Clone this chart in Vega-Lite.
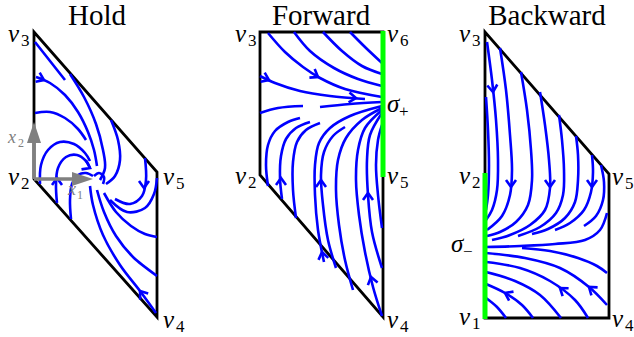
{
  "$schema": "https://vega.github.io/schema/vega-lite/v6.json",
  "width": 634,
  "height": 337,
  "padding": 0,
  "autosize": {"type": "none"},
  "background": "white",
  "view": {"stroke": null},
  "config": {"font": "Liberation Serif"},
  "encoding": {
    "x": {"field":"x","type":"quantitative","scale":{"domain":[0,634],"nice":false,"zero":false},"axis":null},
    "y": {"field":"y","type":"quantitative","scale":{"domain":[0,337],"nice":false,"zero":false,"reverse":true},"axis":null}
  },
  "layer": [
    {
      "data": {"values": [
        {"id":"h","i":0,"x":34,"y":120},{"id":"h","i":1,"x":34,"y":32},{"id":"h","i":2,"x":157,"y":172},{"id":"h","i":3,"x":157,"y":317},{"id":"h","i":4,"x":34,"y":179},{"id":"h","i":5,"x":34,"y":120},
        {"id":"f","i":0,"x":383,"y":32},{"id":"f","i":1,"x":260,"y":32},{"id":"f","i":2,"x":260,"y":175},{"id":"f","i":3,"x":383,"y":317},{"id":"f","i":4,"x":383,"y":177},
        {"id":"b","i":0,"x":485,"y":173},{"id":"b","i":1,"x":485,"y":32},{"id":"b","i":2,"x":609,"y":174},{"id":"b","i":3,"x":609,"y":318},{"id":"b","i":4,"x":485,"y":318}
      ]},
      "mark": {"type":"line","color":"#000000","strokeWidth":2.8,"strokeJoin":"miter","strokeCap":"square"},
      "encoding": {"detail":{"field":"id"},"order":{"field":"i","type":"quantitative"}}
    },
    {
      "data": {"values": [
      {"id":"hA","i":0,"x":35,"y":42},{"id":"hA","i":1,"x":50,"y":61},{"id":"hA","i":2,"x":65,"y":80},
      {"id":"hB","i":0,"x":36,"y":77},{"id":"hB","i":1,"x":50,"y":83},{"id":"hB","i":2,"x":65,"y":95},{"id":"hB","i":3,"x":78,"y":112},{"id":"hB","i":4,"x":88,"y":132},{"id":"hB","i":5,"x":94,"y":150},{"id":"hB","i":6,"x":97,"y":166},
      {"id":"hC","i":0,"x":35,"y":113},{"id":"hC","i":1,"x":50,"y":112},{"id":"hC","i":2,"x":65,"y":118},{"id":"hC","i":3,"x":78,"y":129},{"id":"hC","i":4,"x":86,"y":140},
      {"id":"hD","i":0,"x":70,"y":74},{"id":"hD","i":1,"x":84,"y":97},{"id":"hD","i":2,"x":96,"y":124},{"id":"hD","i":3,"x":103,"y":150},{"id":"hD","i":4,"x":105,"y":168},{"id":"hD","i":5,"x":100,"y":180},
      {"id":"hE","i":0,"x":111,"y":120},{"id":"hE","i":1,"x":118,"y":140},{"id":"hE","i":2,"x":120,"y":160},{"id":"hE","i":3,"x":115,"y":176},{"id":"hE","i":4,"x":106,"y":184},
      {"id":"hL1","i":0,"x":40,"y":184},{"id":"hL1","i":1,"x":41,"y":165},{"id":"hL1","i":2,"x":48,"y":150},{"id":"hL1","i":3,"x":60,"y":142},{"id":"hL1","i":4,"x":74,"y":144},{"id":"hL1","i":5,"x":85,"y":153},{"id":"hL1","i":6,"x":90,"y":161},
      {"id":"hL2","i":0,"x":57,"y":203},{"id":"hL2","i":1,"x":56,"y":185},{"id":"hL2","i":2,"x":58,"y":168},{"id":"hL2","i":3,"x":66,"y":157},{"id":"hL2","i":4,"x":77,"y":155},{"id":"hL2","i":5,"x":86,"y":161},{"id":"hL2","i":6,"x":90,"y":168},
      {"id":"hL3","i":0,"x":71,"y":219},{"id":"hL3","i":1,"x":70,"y":200},{"id":"hL3","i":2,"x":72,"y":184},{"id":"hL3","i":3,"x":78,"y":175},{"id":"hL3","i":4,"x":86,"y":173},{"id":"hL3","i":5,"x":93,"y":176},
      {"id":"hS","i":0,"x":94,"y":176},{"id":"hS","i":1,"x":99,"y":173},{"id":"hS","i":2,"x":104,"y":177},{"id":"hS","i":3,"x":103,"y":184},
      {"id":"hF1","i":0,"x":90,"y":186},{"id":"hF1","i":1,"x":93,"y":205},{"id":"hF1","i":2,"x":103,"y":235},{"id":"hF1","i":3,"x":120,"y":265},{"id":"hF1","i":4,"x":140,"y":291},{"id":"hF1","i":5,"x":156,"y":313},
      {"id":"hF2","i":0,"x":97,"y":190},{"id":"hF2","i":1,"x":104,"y":212},{"id":"hF2","i":2,"x":116,"y":236},{"id":"hF2","i":3,"x":134,"y":258},{"id":"hF2","i":4,"x":157,"y":276},
      {"id":"hF3","i":0,"x":104,"y":193},{"id":"hF3","i":1,"x":116,"y":212},{"id":"hF3","i":2,"x":131,"y":226},{"id":"hF3","i":3,"x":145,"y":234},{"id":"hF3","i":4,"x":157,"y":237},
      {"id":"hF4","i":0,"x":110,"y":200},{"id":"hF4","i":1,"x":127,"y":212},{"id":"hF4","i":2,"x":145,"y":208},{"id":"hF4","i":3,"x":154,"y":194},{"id":"hF4","i":4,"x":157,"y":178},
      {"id":"hG","i":0,"x":145,"y":158},{"id":"hG","i":1,"x":146,"y":180},{"id":"hG","i":2,"x":142,"y":196},{"id":"hG","i":3,"x":130,"y":204},{"id":"hG","i":4,"x":115,"y":199},
      {"id":"fT1","i":0,"x":350,"y":32},{"id":"fT1","i":1,"x":366,"y":48},{"id":"fT1","i":2,"x":382,"y":63},
      {"id":"fT2","i":0,"x":323,"y":32},{"id":"fT2","i":1,"x":342,"y":51},{"id":"fT2","i":2,"x":362,"y":66},{"id":"fT2","i":3,"x":382,"y":74},
      {"id":"fT3","i":0,"x":294,"y":32},{"id":"fT3","i":1,"x":310,"y":51},{"id":"fT3","i":2,"x":334,"y":68},{"id":"fT3","i":3,"x":358,"y":79},{"id":"fT3","i":4,"x":382,"y":86},
      {"id":"fT4","i":0,"x":268,"y":33},{"id":"fT4","i":1,"x":285,"y":52},{"id":"fT4","i":2,"x":303,"y":67},{"id":"fT4","i":3,"x":320,"y":78},{"id":"fT4","i":4,"x":345,"y":89},{"id":"fT4","i":5,"x":382,"y":97},
      {"id":"fT5","i":0,"x":260,"y":76},{"id":"fT5","i":1,"x":275,"y":83},{"id":"fT5","i":2,"x":300,"y":91},{"id":"fT5","i":3,"x":330,"y":96},{"id":"fT5","i":4,"x":365,"y":99},
      {"id":"fM1","i":0,"x":260,"y":113},{"id":"fM1","i":1,"x":278,"y":108},{"id":"fM1","i":2,"x":303,"y":106},
      {"id":"fM2","i":0,"x":320,"y":107},{"id":"fM2","i":1,"x":350,"y":104},{"id":"fM2","i":2,"x":382,"y":102},
      {"id":"fL1","i":0,"x":268,"y":186},{"id":"fL1","i":1,"x":266,"y":165},{"id":"fL1","i":2,"x":268,"y":145},{"id":"fL1","i":3,"x":275,"y":131},{"id":"fL1","i":4,"x":288,"y":122},{"id":"fL1","i":5,"x":300,"y":118},
      {"id":"fL2","i":0,"x":282,"y":199},{"id":"fL2","i":1,"x":280,"y":178},{"id":"fL2","i":2,"x":281,"y":156},{"id":"fL2","i":3,"x":286,"y":139},{"id":"fL2","i":4,"x":296,"y":128},{"id":"fL2","i":5,"x":310,"y":122},
      {"id":"fL3","i":0,"x":296,"y":218},{"id":"fL3","i":1,"x":293,"y":190},{"id":"fL3","i":2,"x":293,"y":162},{"id":"fL3","i":3,"x":297,"y":142},{"id":"fL3","i":4,"x":306,"y":130},{"id":"fL3","i":5,"x":320,"y":123},
      {"id":"fL4","i":0,"x":324,"y":262},{"id":"fL4","i":1,"x":318,"y":230},{"id":"fL4","i":2,"x":315,"y":195},{"id":"fL4","i":3,"x":315,"y":165},{"id":"fL4","i":4,"x":319,"y":143},{"id":"fL4","i":5,"x":330,"y":128},{"id":"fL4","i":6,"x":350,"y":116},{"id":"fL4","i":7,"x":382,"y":106},
      {"id":"fL5","i":0,"x":336,"y":268},{"id":"fL5","i":1,"x":328,"y":240},{"id":"fL5","i":2,"x":323,"y":205},{"id":"fL5","i":3,"x":321,"y":175},{"id":"fL5","i":4,"x":324,"y":152},{"id":"fL5","i":5,"x":333,"y":136},{"id":"fL5","i":6,"x":345,"y":127},
      {"id":"fL6","i":0,"x":353,"y":290},{"id":"fL6","i":1,"x":345,"y":260},{"id":"fL6","i":2,"x":339,"y":225},{"id":"fL6","i":3,"x":336,"y":190},{"id":"fL6","i":4,"x":338,"y":160},{"id":"fL6","i":5,"x":346,"y":138},{"id":"fL6","i":6,"x":362,"y":120},{"id":"fL6","i":7,"x":382,"y":108},
      {"id":"fL7","i":0,"x":382,"y":316},{"id":"fL7","i":1,"x":373,"y":287},{"id":"fL7","i":2,"x":365,"y":252},{"id":"fL7","i":3,"x":359,"y":215},{"id":"fL7","i":4,"x":356,"y":180},{"id":"fL7","i":5,"x":358,"y":150},{"id":"fL7","i":6,"x":365,"y":128},{"id":"fL7","i":7,"x":382,"y":110},
      {"id":"fL8","i":0,"x":382,"y":268},{"id":"fL8","i":1,"x":372,"y":232},{"id":"fL8","i":2,"x":368,"y":195},{"id":"fL8","i":3,"x":367,"y":160},{"id":"fL8","i":4,"x":370,"y":135},{"id":"fL8","i":5,"x":382,"y":113},
      {"id":"fL9","i":0,"x":382,"y":228},{"id":"fL9","i":1,"x":378,"y":195},{"id":"fL9","i":2,"x":376,"y":165},{"id":"fL9","i":3,"x":378,"y":140},{"id":"fL9","i":4,"x":382,"y":125},
      {"id":"bT0","i":0,"x":486,"y":97},{"id":"bT0","i":1,"x":488,"y":130},{"id":"bT0","i":2,"x":489,"y":165},{"id":"bT0","i":3,"x":488,"y":195},{"id":"bT0","i":4,"x":486,"y":210},
      {"id":"bT1","i":0,"x":487,"y":42},{"id":"bT1","i":1,"x":492,"y":80},{"id":"bT1","i":2,"x":496,"y":120},{"id":"bT1","i":3,"x":498,"y":160},{"id":"bT1","i":4,"x":497,"y":190},{"id":"bT1","i":5,"x":492,"y":210},{"id":"bT1","i":6,"x":486,"y":220},
      {"id":"bT2","i":0,"x":500,"y":48},{"id":"bT2","i":1,"x":506,"y":90},{"id":"bT2","i":2,"x":510,"y":135},{"id":"bT2","i":3,"x":512,"y":170},{"id":"bT2","i":4,"x":510,"y":195},{"id":"bT2","i":5,"x":502,"y":216},{"id":"bT2","i":6,"x":487,"y":230},
      {"id":"bT3","i":0,"x":521,"y":72},{"id":"bT3","i":1,"x":527,"y":110},{"id":"bT3","i":2,"x":531,"y":150},{"id":"bT3","i":3,"x":532,"y":180},{"id":"bT3","i":4,"x":528,"y":205},{"id":"bT3","i":5,"x":516,"y":222},{"id":"bT3","i":6,"x":500,"y":232},{"id":"bT3","i":7,"x":487,"y":236},
      {"id":"bT4","i":0,"x":540,"y":92},{"id":"bT4","i":1,"x":545,"y":125},{"id":"bT4","i":2,"x":549,"y":160},{"id":"bT4","i":3,"x":550,"y":188},{"id":"bT4","i":4,"x":545,"y":210},{"id":"bT4","i":5,"x":530,"y":225},{"id":"bT4","i":6,"x":510,"y":235},{"id":"bT4","i":7,"x":492,"y":240},
      {"id":"bT5","i":0,"x":559,"y":115},{"id":"bT5","i":1,"x":562,"y":140},{"id":"bT5","i":2,"x":564,"y":170},{"id":"bT5","i":3,"x":563,"y":195},{"id":"bT5","i":4,"x":556,"y":213},{"id":"bT5","i":5,"x":540,"y":227},{"id":"bT5","i":6,"x":518,"y":236},
      {"id":"bT6","i":0,"x":576,"y":136},{"id":"bT6","i":1,"x":578,"y":155},{"id":"bT6","i":2,"x":578,"y":180},{"id":"bT6","i":3,"x":575,"y":202},{"id":"bT6","i":4,"x":565,"y":218},{"id":"bT6","i":5,"x":548,"y":229},{"id":"bT6","i":6,"x":532,"y":234},
      {"id":"bT7","i":0,"x":592,"y":155},{"id":"bT7","i":1,"x":593,"y":172},{"id":"bT7","i":2,"x":591,"y":192},{"id":"bT7","i":3,"x":584,"y":210},{"id":"bT7","i":4,"x":570,"y":223},{"id":"bT7","i":5,"x":555,"y":230},
      {"id":"bT8","i":0,"x":601,"y":165},{"id":"bT8","i":1,"x":604,"y":182},{"id":"bT8","i":2,"x":603,"y":200},{"id":"bT8","i":3,"x":596,"y":216},{"id":"bT8","i":4,"x":584,"y":226},
      {"id":"bH","i":0,"x":486,"y":247},{"id":"bH","i":1,"x":520,"y":246},{"id":"bH","i":2,"x":555,"y":244},{"id":"bH","i":3,"x":585,"y":240},{"id":"bH","i":4,"x":600,"y":230},{"id":"bH","i":5,"x":607,"y":213},
      {"id":"bB0","i":0,"x":522,"y":248},{"id":"bB0","i":1,"x":550,"y":251},{"id":"bB0","i":2,"x":578,"y":258},{"id":"bB0","i":3,"x":597,"y":266},{"id":"bB0","i":4,"x":607,"y":273},
      {"id":"bB1","i":0,"x":486,"y":253},{"id":"bB1","i":1,"x":525,"y":258},{"id":"bB1","i":2,"x":560,"y":268},{"id":"bB1","i":3,"x":589,"y":287},{"id":"bB1","i":4,"x":607,"y":305},
      {"id":"bB2","i":0,"x":486,"y":262},{"id":"bB2","i":1,"x":520,"y":268},{"id":"bB2","i":2,"x":550,"y":281},{"id":"bB2","i":3,"x":575,"y":300},{"id":"bB2","i":4,"x":588,"y":318},
      {"id":"bB3","i":0,"x":486,"y":272},{"id":"bB3","i":1,"x":515,"y":281},{"id":"bB3","i":2,"x":540,"y":295},{"id":"bB3","i":3,"x":561,"y":318},
      {"id":"bB4","i":0,"x":486,"y":284},{"id":"bB4","i":1,"x":505,"y":293},{"id":"bB4","i":2,"x":522,"y":305},{"id":"bB4","i":3,"x":533,"y":318},
      {"id":"bB5","i":0,"x":486,"y":298},{"id":"bB5","i":1,"x":497,"y":307},{"id":"bB5","i":2,"x":506,"y":318}
      ]},
      "mark": {"type":"line","color":"#0000ff","strokeWidth":2.6,"interpolate":"catmull-rom","strokeCap":"butt"},
      "encoding": {"detail":{"field":"id"},"order":{"field":"i","type":"quantitative"}}
    },
    {
      "data": {"values": [
      {"id":"ha1","i":0,"x":35.6,"y":81.7},{"id":"ha1","i":1,"x":44,"y":80},{"id":"ha1","i":2,"x":39.7,"y":72.6},
      {"id":"ha2","i":0,"x":52,"y":185},{"id":"ha2","i":1,"x":57,"y":178},{"id":"ha2","i":2,"x":62,"y":185},
      {"id":"ha3","i":0,"x":139,"y":181},{"id":"ha3","i":1,"x":144,"y":188},{"id":"ha3","i":2,"x":149,"y":181},
      {"id":"ha4","i":0,"x":148.2,"y":293.6},{"id":"ha4","i":1,"x":140,"y":291},{"id":"ha4","i":2,"x":140.2,"y":299.6},
      {"id":"ha5","i":0,"x":81.5,"y":169.4},{"id":"ha5","i":1,"x":90,"y":168},{"id":"ha5","i":2,"x":85.9,"y":160.4},
      {"id":"fa1","i":0,"x":260.6,"y":81.7},{"id":"fa1","i":1,"x":269,"y":80},{"id":"fa1","i":2,"x":264.7,"y":72.6},
      {"id":"fa2","i":0,"x":309.4,"y":77.6},{"id":"fa2","i":1,"x":318,"y":77},{"id":"fa2","i":2,"x":314.7,"y":69.1},
      {"id":"fa3","i":0,"x":348.6,"y":102.4},{"id":"fa3","i":1,"x":356,"y":98},{"id":"fa3","i":2,"x":349.5,"y":92.4},
      {"id":"fa4","i":0,"x":276,"y":185},{"id":"fa4","i":1,"x":281,"y":178},{"id":"fa4","i":2,"x":286,"y":185},
      {"id":"fa5","i":0,"x":328.3,"y":257.9},{"id":"fa5","i":1,"x":322,"y":252},{"id":"fa5","i":2,"x":318.5,"y":259.9},
      {"id":"fa6","i":0,"x":316,"y":187},{"id":"fa6","i":1,"x":321,"y":180},{"id":"fa6","i":2,"x":326,"y":187},
      {"id":"fa7","i":0,"x":363,"y":200},{"id":"fa7","i":1,"x":368,"y":193},{"id":"fa7","i":2,"x":373,"y":200},
      {"id":"fa8","i":0,"x":377.6,"y":282.6},{"id":"fa8","i":1,"x":371,"y":277},{"id":"fa8","i":2,"x":367.9,"y":285.1},
      {"id":"ba1","i":0,"x":487.3,"y":85.5},{"id":"ba1","i":1,"x":493,"y":92},{"id":"ba1","i":2,"x":497.3,"y":84.5},
      {"id":"ba2","i":0,"x":506,"y":180},{"id":"ba2","i":1,"x":511,"y":187},{"id":"ba2","i":2,"x":516,"y":180},
      {"id":"ba3","i":0,"x":545,"y":180},{"id":"ba3","i":1,"x":550,"y":187},{"id":"ba3","i":2,"x":555,"y":180},
      {"id":"ba4","i":0,"x":587,"y":180},{"id":"ba4","i":1,"x":592,"y":187},{"id":"ba4","i":2,"x":597,"y":180},
      {"id":"ba5","i":0,"x":513.5,"y":291.6},{"id":"ba5","i":1,"x":505,"y":293},{"id":"ba5","i":2,"x":509.1,"y":300.6},
      {"id":"ba6","i":0,"x":568.6,"y":288.2},{"id":"ba6","i":1,"x":560,"y":288},{"id":"ba6","i":2,"x":562.6,"y":296.2},
      {"id":"ba7","i":0,"x":597.6,"y":287.4},{"id":"ba7","i":1,"x":589,"y":287},{"id":"ba7","i":2,"x":591.4,"y":295.3}
      ]},
      "mark": {"type":"line","color":"#0000ff","strokeWidth":2.6,"strokeJoin":"miter","strokeCap":"butt"},
      "encoding": {"detail":{"field":"id"},"order":{"field":"i","type":"quantitative"}}
    },
    {
      "data": {"values": [
        {"id":"g1","i":0,"x":383,"y":31},{"id":"g1","i":1,"x":383,"y":177},
        {"id":"g2","i":0,"x":485,"y":173},{"id":"g2","i":1,"x":485,"y":319}
      ]},
      "mark": {"type":"line","color":"#00ff00","strokeWidth":5,"strokeCap":"butt"},
      "encoding": {"detail":{"field":"id"},"order":{"field":"i","type":"quantitative"}}
    },
    {
      "data": {"values": [
        {"id":"x1","i":0,"x":34,"y":179},{"id":"x1","i":1,"x":74,"y":179},
        {"id":"x2","i":0,"x":34,"y":179},{"id":"x2","i":1,"x":34,"y":142}
      ]},
      "mark": {"type":"line","color":"#808080","strokeWidth":3.5,"strokeCap":"butt"},
      "encoding": {"detail":{"field":"id"},"order":{"field":"i","type":"quantitative"}}
    },
    {
      "data": {"values": [
        {"x":72,"y":172,"y2":186},{"x":93,"y":179,"y2":179}
      ]},
      "mark": {"type":"area","color":"#808080","opacity":1,"orient":"vertical"},
      "encoding": {"y2":{"field":"y2"}}
    },
    {
      "data": {"values": [
        {"y":143,"x":27,"x2":41},{"y":122,"x":34,"x2":34}
      ]},
      "mark": {"type":"area","color":"#808080","opacity":1,"orient":"horizontal"},
      "encoding": {"x2":{"field":"x2"}}
    },
    {
      "data": {"values": [
        {"x":8,"y":34,"t":"v","k":"main"},{"x":8,"y":177,"t":"v","k":"main"},{"x":163,"y":177,"t":"v","k":"main"},{"x":163,"y":320,"t":"v","k":"main"},
        {"x":235,"y":34,"t":"v","k":"main"},{"x":387,"y":34,"t":"v","k":"main"},{"x":387,"y":104,"t":"σ","k":"main"},{"x":235,"y":176,"t":"v","k":"main"},{"x":387,"y":176,"t":"v","k":"main"},{"x":387,"y":320,"t":"v","k":"main"},
        {"x":459,"y":34,"t":"v","k":"main"},{"x":459,"y":176,"t":"v","k":"main"},{"x":451,"y":244,"t":"σ","k":"main"},{"x":459,"y":317,"t":"v","k":"main"},{"x":612,"y":177,"t":"v","k":"main"},{"x":612,"y":319,"t":"v","k":"main"},
        {"x":21,"y":41,"t":"3","k":"sub"},{"x":21,"y":184,"t":"2","k":"sub"},{"x":176,"y":184,"t":"5","k":"sub"},{"x":176,"y":327,"t":"4","k":"sub"},
        {"x":248,"y":41,"t":"3","k":"sub"},{"x":400,"y":41,"t":"6","k":"sub"},{"x":399,"y":112,"t":"+","k":"sub"},{"x":248,"y":183,"t":"2","k":"sub"},{"x":400,"y":183,"t":"5","k":"sub"},{"x":400,"y":327,"t":"4","k":"sub"},
        {"x":472,"y":41,"t":"3","k":"sub"},{"x":472,"y":183,"t":"2","k":"sub"},{"x":463,"y":252,"t":"−","k":"sub"},{"x":472,"y":324,"t":"1","k":"sub"},{"x":625,"y":184,"t":"5","k":"sub"},{"x":625,"y":326,"t":"4","k":"sub"},
        {"x":8,"y":138,"t":"x","k":"gmain"},{"x":68,"y":190,"t":"x","k":"gmain"},
        {"x":18,"y":143,"t":"2","k":"gsub"},{"x":77,"y":195,"t":"1","k":"gsub"},
        {"x":97,"y":16,"t":"Hold","k":"title"},{"x":321,"y":16,"t":"Forward","k":"title"},{"x":547,"y":16,"t":"Backward","k":"title"}
      ]},
      "layer": [
        {"transform":[{"filter":"datum.k==='main'"}],"mark":{"type":"text","align":"left","font":"Liberation Serif","fontStyle":"italic","fontSize":25},"encoding":{"text":{"field":"t"}}},
        {"transform":[{"filter":"datum.k==='sub'"}],"mark":{"type":"text","align":"left","font":"Liberation Serif","fontSize":17},"encoding":{"text":{"field":"t"}}},
        {"transform":[{"filter":"datum.k==='gmain'"}],"mark":{"type":"text","align":"left","font":"Liberation Serif","fontStyle":"italic","fontSize":18,"color":"#808080"},"encoding":{"text":{"field":"t"}}},
        {"transform":[{"filter":"datum.k==='gsub'"}],"mark":{"type":"text","align":"left","font":"Liberation Serif","fontSize":12,"color":"#808080"},"encoding":{"text":{"field":"t"}}},
        {"transform":[{"filter":"datum.k==='title'"}],"mark":{"type":"text","align":"center","font":"Liberation Serif","fontSize":29},"encoding":{"text":{"field":"t"}}}
      ]
    }
  ]
}
